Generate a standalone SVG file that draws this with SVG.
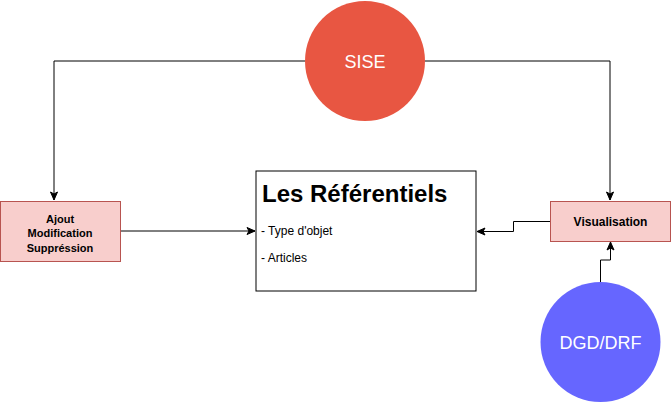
<svg xmlns="http://www.w3.org/2000/svg" width="671" height="403" viewBox="0 0 671 403">
<style>
.box{fill:#f8cecc;stroke:#b85450;stroke-width:1}
.lbl{font-family:"Liberation Sans",Arial,sans-serif;font-size:11px;font-weight:bold;fill:#000;text-anchor:middle}
.circ{font-family:"Liberation Sans",Arial,sans-serif;font-size:18px;fill:#fff;text-anchor:middle}
.edge{fill:none;stroke:#000;stroke-width:1}
</style>
<defs>
<marker id="arr" markerWidth="10" markerHeight="10" refX="9" refY="5" orient="auto" markerUnits="userSpaceOnUse">
<path d="M1,1.5 L9,5 L1,8.5 L3,5 Z" fill="#000" stroke="#000" stroke-width="1"/>
</marker>
</defs>
<rect width="671" height="403" fill="#fff"/>
<g id="connectors">
<path class="edge" d="M305,61 H54 V200" marker-end="url(#arr)"/>
<path class="edge" d="M425,61 H610 V200" marker-end="url(#arr)"/>
<path class="edge" d="M120,231 H255" marker-end="url(#arr)"/>
<path class="edge" d="M550,221.5 H513.5 V231.5 H477" marker-end="url(#arr)"/>
<path class="edge" d="M600.5,282 V260 H610.5 V242" marker-end="url(#arr)"/>
</g>
<g id="sise">
<circle cx="365" cy="61" r="60" fill="#e85642"/>
<text class="circ" x="365" y="68">SISE</text>
</g>
<g id="referentiels">
<rect x="256" y="171" width="220" height="120" fill="#fff" stroke="#000" stroke-width="1"/>
<text x="262" y="202" font-family="Liberation Sans,Arial,sans-serif" font-size="24" font-weight="bold" fill="#000">Les Référentiels</text>
<text x="261" y="235" font-family="Liberation Sans,Arial,sans-serif" font-size="12" fill="#000">- Type d'objet</text>
<text x="261" y="262" font-family="Liberation Sans,Arial,sans-serif" font-size="12" fill="#000">- Articles</text>
</g>
<g id="ajout">
<rect class="box" x="0.5" y="201.5" width="120" height="60"/>
<text class="lbl" x="60" y="223">Ajout</text>
<text class="lbl" x="60" y="237">Modification</text>
<text class="lbl" x="60" y="252">Suppréssion</text>
</g>
<g id="visualisation">
<rect class="box" x="550.5" y="201.5" width="120" height="40"/>
<text class="lbl" x="610.5" y="225.5" style="font-size:12px">Visualisation</text>
</g>
<g id="dgd">
<circle cx="600.5" cy="342" r="60" fill="#6666ff"/>
<text class="circ" x="600.5" y="349">DGD/DRF</text>
</g>
</svg>
